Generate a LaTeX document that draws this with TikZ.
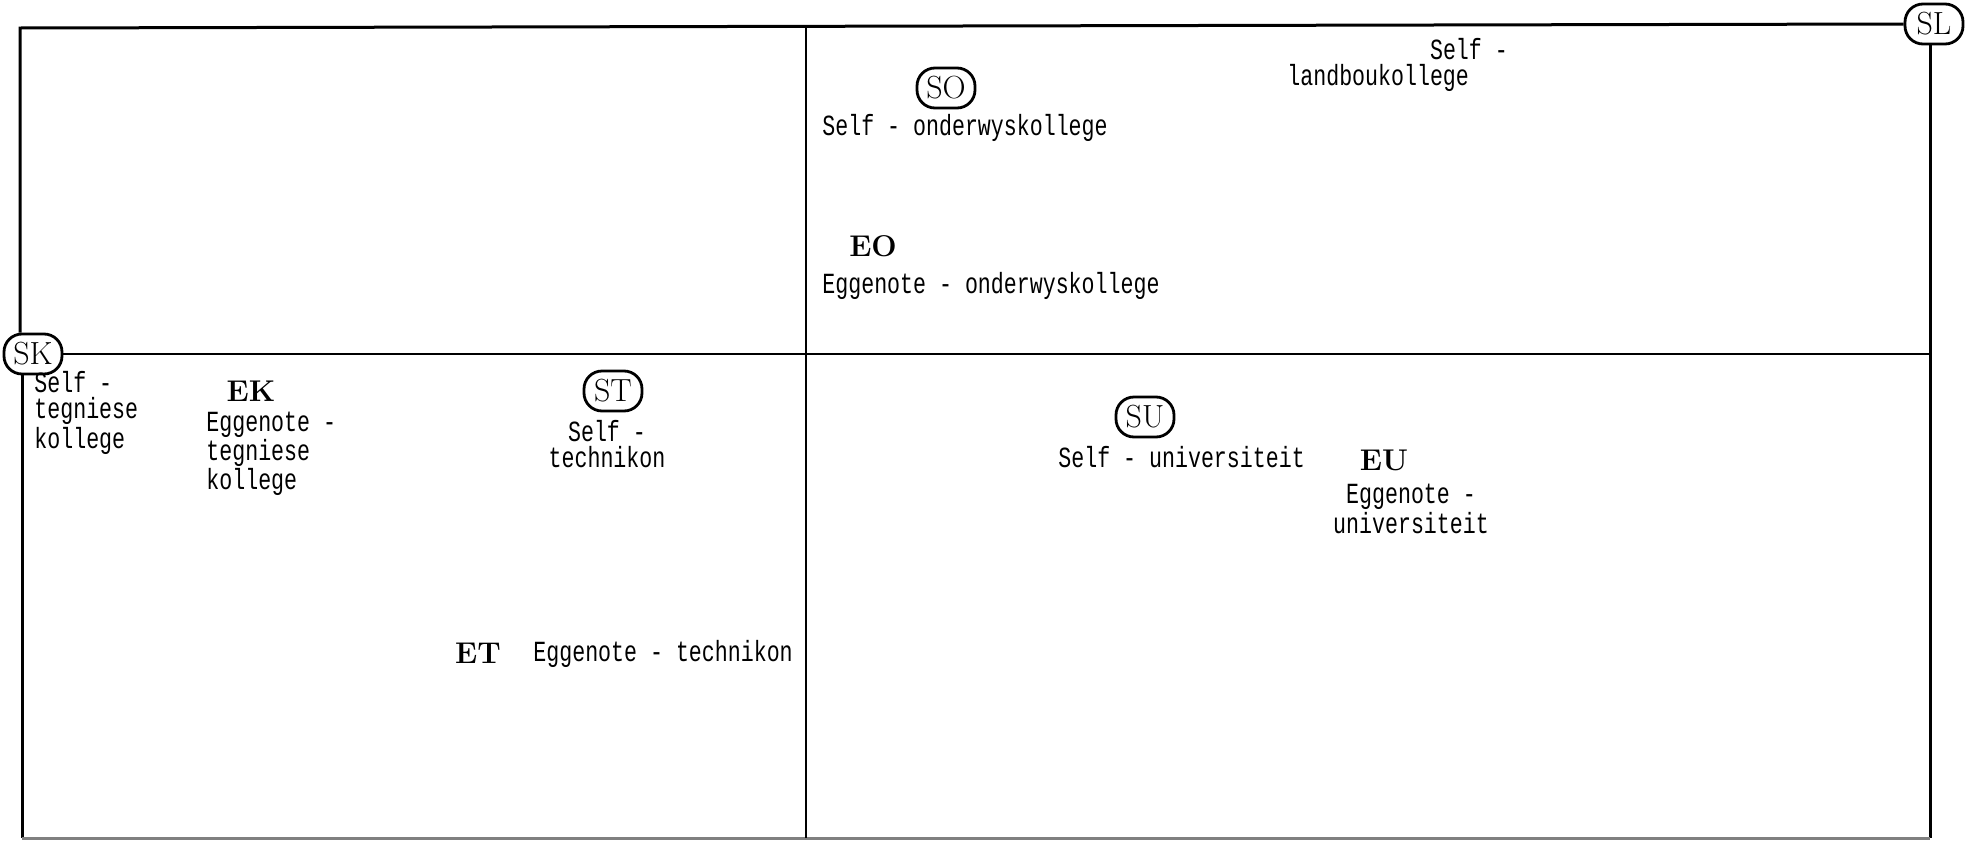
\documentclass[tikz,border=0pt]{standalone}
\usepackage{fontspec}
\usetikzlibrary{positioning}
\newfontfamily\typewriter[FakeStretch=0.74]{Liberation Mono}
\tikzset{
    frame-line/.style = {line width=1.5pt},
    grid-line/.style = {line width=1pt},
    self-oval/.style = {draw, fill=white, line width=1.4pt, rectangle, rounded corners=9pt, minimum width=29pt, minimum height=20pt, inner sep=0pt, font=\fontsize{16}{16}\selectfont},
    spouse-code/.style = {inner sep=0pt, font=\fontsize{15}{15}\selectfont\bfseries},
    typed-label/.style = {inner sep=0pt, align=left, font=\typewriter\fontsize{14.6}{13}\selectfont},
}

\begin{document}
\begin{tikzpicture}[x=0.5pt, y=-0.5pt]
\useasboundingbox (0,0) rectangle (1966,841);
\node[self-oval] (SL) at (1934,24) {SL};
\node[self-oval] (SO) at (946,88) {SO};
\node[self-oval] (SK) at (33,354) {SK};
\node[self-oval] (ST) at (613,391) {ST};
\node[self-oval] (SU) at (1145,417) {SU};
\node[spouse-code] (EO) at (873,246) {EO};
\node[spouse-code] (EK) at (251,391) {EK};
\node[spouse-code] (ET) at (478,653) {ET};
\node[spouse-code] (EU) at (1384,460) {EU};
\node[typed-label, anchor=west] (SL-text) at (1287,65) {\phantom{landboukoll}Self -\\landboukollege};
\node[typed-label, anchor=west] (SO-text) at (822,128) {Self - onderwyskollege};
\node[typed-label, anchor=west] (EO-text) at (822,286) {Eggenote - onderwyskollege};
\node[typed-label, anchor=west] (SK-text) at (34,413) {Self -\\tegniese\\kollege};
\node[typed-label, anchor=west] (EK-text) at (206,454) {Eggenote -\\tegniese\\kollege};
\node[typed-label, align=center, below=4pt of ST, xshift=-3pt] (ST-text) {Self -\\technikon};
\node[typed-label, anchor=west] (ET-text) at (533,654) {Eggenote - technikon};
\node[typed-label, anchor=west] (SU-text) at (1058,457) {Self - universiteit};
\node[typed-label, align=center] (EU-text) at (1411,509) {Eggenote -\\universiteit};
\coordinate (tl) at (20,28);
\coordinate (bl) at (22,838);
\coordinate (br) at (1930,838);
\coordinate (tm) at (806,27);
\coordinate (bm) at (806,838);
\draw[frame-line] (SL.west) -- (tl) -- (SK.north -| tl);
\draw[frame-line] (SK.south -| bl) -- (bl);
\draw[frame-line] (SL.south -| br) -- (br);
\draw[frame-line, gray] (bl) -- (br);
\draw[grid-line] (tm) -- (bm);
\draw[grid-line] (SK.east) -- (SK.east -| br);
\end{tikzpicture}
\end{document}
